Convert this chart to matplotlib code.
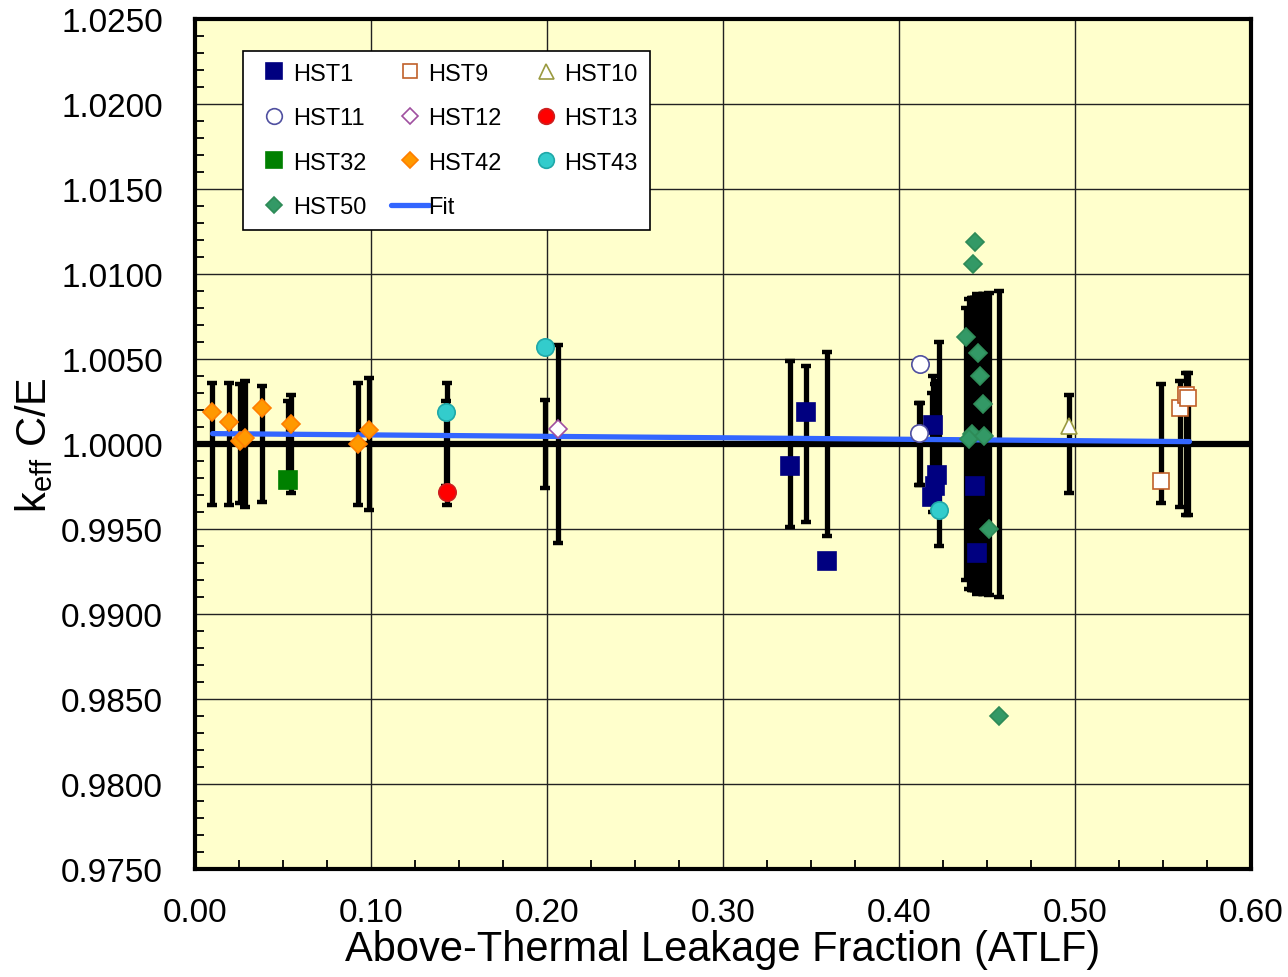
import numpy as np
import matplotlib
matplotlib.use("Agg")
import matplotlib.pyplot as plt
from matplotlib.ticker import MultipleLocator, FormatStrFormatter

plt.rcParams['font.family'] = ['Liberation Sans', 'DejaVu Sans']
plt.rcParams['mathtext.fontset'] = 'custom'
plt.rcParams['mathtext.rm'] = 'Liberation Sans'
plt.rcParams['mathtext.it'] = 'Liberation Sans:italic'

# ---------------- data (x = ATLF, y = keff C/E, u = experimental uncertainty about 1.0) -------------
hst1_x = [0.338, 0.347, 0.359, 0.4193, 0.4216, 0.4205, 0.4188, 0.4432, 0.4443]
hst1_y = [0.9987, 1.0019, 0.9931, 1.0011, 0.9982, 0.9975, 0.9969, 0.9975, 0.9936]
hst1_u = [0.0049, 0.0046, 0.0054, 0.0040, 0.0037, 0.0035, 0.0030, 0.0086, 0.0088]

hst9_x = [0.549, 0.5597, 0.5632, 0.5640]
hst9_y = [0.9978, 1.0021, 1.0029, 1.0027]
hst9_u = [0.0035, 0.0037, 0.0042, 0.0042]

hst10_x = [0.4966]
hst10_y = [1.00106]
hst10_u = [0.0029]

hst11_x = [0.4120, 0.4114]
hst11_y = [1.0047, 1.00065]
hst11_u = [0.0024, 0.0024]

hst12_x = [0.2063]
hst12_y = [1.0009]
hst12_u = [0.0058]

hst13_x = [0.1432]
hst13_y = [0.9972]
hst13_u = [0.0036]

hst32_x = [0.0528]
hst32_y = [0.9979]
hst32_u = [0.0025]

hst42_x = [0.0097, 0.0193, 0.0256, 0.0284, 0.0380, 0.0545, 0.0926, 0.0990]
hst42_y = [1.0019, 1.0013, 1.0002, 1.00035, 1.0021, 1.0012, 1.0000, 1.0008]
hst42_u = [0.0036, 0.0036, 0.0035, 0.0037, 0.0034, 0.0029, 0.0036, 0.0039]

hst43_x = [0.1426, 0.1989, 0.4227]
hst43_y = [1.0019, 1.0057, 0.9961]
hst43_u = [0.0025, 0.0026, 0.0060]

hst50_x = [0.4432, 0.4420, 0.4380, 0.4450, 0.4460, 0.4477, 0.4415, 0.4400, 0.4483, 0.4510, 0.4566]
hst50_y = [1.0119, 1.0106, 1.0063, 1.00535, 1.0040, 1.00235, 1.00059, 1.0003, 1.00047, 0.9950, 0.9840]
hst50_u = [0.0086, 0.0086, 0.0080, 0.0087, 0.0087, 0.0088, 0.0086, 0.0085, 0.0088, 0.0089, 0.0090]

fit_x = [0.010, 0.565]
fit_y = [1.00061, 1.00014]

x_ticks = [0.00, 0.10, 0.20, 0.30, 0.40, 0.50, 0.60]
y_ticks = [0.9750, 0.9800, 0.9850, 0.9900, 0.9950, 1.0000, 1.0050, 1.0100, 1.0150, 1.0200, 1.0250]

series = [
    # name, x, y, u, marker, size, face, edge
    ("HST1", hst1_x, hst1_y, hst1_u, 's', 12.5, '#000080', '#000080'),
    ("HST9", hst9_x, hst9_y, hst9_u, 's', 11.5, 'white', '#C0602A'),
    ("HST10", hst10_x, hst10_y, hst10_u, '^', 12, 'white', '#9A9A40'),
    ("HST11", hst11_x, hst11_y, hst11_u, 'o', 12.5, 'white', '#5050A0'),
    ("HST12", hst12_x, hst12_y, hst12_u, 'D', 9, 'white', '#A050A0'),
    ("HST13", hst13_x, hst13_y, hst13_u, 'o', 12.5, '#FF0000', '#CC2020'),
    ("HST32", hst32_x, hst32_y, hst32_u, 's', 13.5, '#008000', '#008000'),
    ("HST42", hst42_x, hst42_y, hst42_u, 'D', 9.5, '#FF9900', '#FF7F00'),
    ("HST43", hst43_x, hst43_y, hst43_u, 'o', 12.5, '#33CCCC', '#20A8A8'),
    ("HST50", hst50_x, hst50_y, hst50_u, 'D', 9.5, '#339966', '#2E8B57'),
]

fig = plt.figure(figsize=(12.88, 9.78), dpi=100)
ax = fig.add_axes([0.1514, 0.1104, 0.9713 - 0.1514, 0.9796 - 0.1104])
ax.set_facecolor('#FFFFCC')

# error bars (experimental uncertainty around 1.0)
for name, x, y, u, m, ms, fc, ec in series:
    ax.errorbar(x, np.ones(len(x)), yerr=u, fmt='none', ecolor='black',
                elinewidth=3.8, capsize=3.4, capthick=3.2, zorder=2)

ax.axhline(1.0, color='black', lw=4.5, zorder=2.5)
fit_line, = ax.plot(fit_x, fit_y, color='#3366FF', lw=3.8, zorder=3, solid_capstyle='round', label='Fit')

handles = {}
for name, x, y, u, m, ms, fc, ec in series:
    h, = ax.plot(x, y, linestyle='none', marker=m, markersize=ms, markerfacecolor=fc,
                 markeredgecolor=ec, markeredgewidth=1.2, zorder=4, label=name)
    handles[name] = h
handles['Fit'] = fit_line

ax.set_xlim(0.0, 0.60)
ax.set_ylim(0.9750, 1.0250)
ax.set_xticks(x_ticks)
ax.set_yticks(y_ticks)
ax.xaxis.set_major_formatter(FormatStrFormatter('%.2f'))
ax.yaxis.set_major_formatter(FormatStrFormatter('%.4f'))
ax.xaxis.set_minor_locator(MultipleLocator(0.025))
ax.yaxis.set_minor_locator(MultipleLocator(0.001))
ax.grid(True, which='major', color='#222222', lw=1.0, zorder=1)
ax.set_axisbelow(True)
ax.tick_params(axis='both', which='both', direction='in', labelsize=24, color='black')
ax.tick_params(axis='both', which='major', length=0, width=1.2)
ax.tick_params(axis='both', which='minor', length=6.5, width=1.3)
ax.tick_params(axis='x', which='major', pad=20)
ax.tick_params(axis='y', which='major', pad=23)
for s in ax.spines.values():
    s.set_linewidth(3)
    s.set_zorder(5)

ax.set_xlabel('Above-Thermal Leakage Fraction (ATLF)', fontsize=30, labelpad=1)
ax.set_ylabel(r'k$_{\mathrm{eff}}$ C/E', fontsize=30, labelpad=4)

order = ["HST1", "HST11", "HST32", "HST50", "HST9", "HST12", "HST42", "Fit", "HST10", "HST13", "HST43"]
leg = ax.legend([handles[k] for k in order], order, ncol=3, loc='upper left',
                bbox_to_anchor=(0.0455, 0.9624), borderaxespad=0, fontsize=17,
                fancybox=False, framealpha=1, edgecolor='black', facecolor='white',
                handlelength=1.6, handletextpad=0.0, columnspacing=1.05,
                labelspacing=0.95, borderpad=0.5, markerscale=0.9)
leg.get_frame().set_linewidth(1.2)
leg.set_zorder(10)

fig.savefig('out.png', dpi=100)
